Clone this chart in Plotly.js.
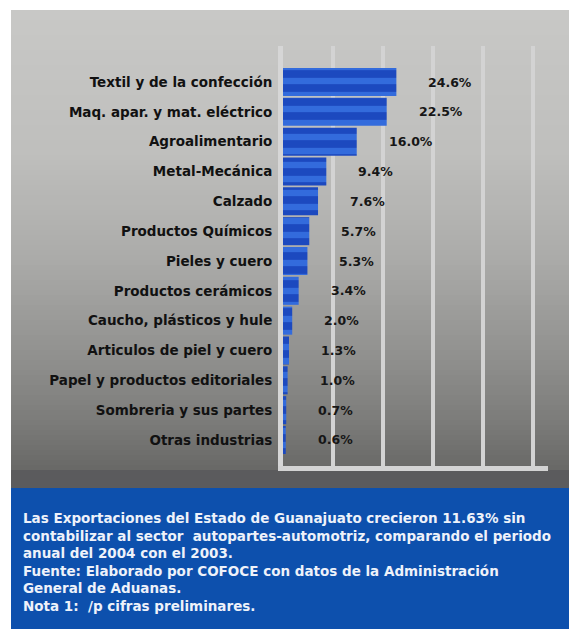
<!DOCTYPE html>
<html><head><meta charset="utf-8">
<script src="https://cdn.plot.ly/plotly-3.0.1.min.js"></script>
<style>html,body{margin:0;padding:0;background:#fff;}#chart{width:569px;height:629px;}</style>
</head><body><div id="chart"></div>
<script>
const categories = [
  "Textil y de la confección",
  "Maq. apar. y mat. eléctrico",
  "Agroalimentario",
  "Metal-Mecánica",
  "Calzado",
  "Productos Químicos",
  "Pieles y cuero",
  "Productos cerámicos",
  "Caucho, plásticos y hule",
  "Articulos de piel y cuero",
  "Papel y productos editoriales",
  "Sombreria y sus partes",
  "Otras industrias"
];
const shares = [24.6, 22.5, 16.0, 9.4, 7.6, 5.7, 5.3, 3.4, 2.0, 1.3, 1.0, 0.7, 0.6];
const noteLines = [
  "Las Exportaciones del Estado de Guanajuato crecieron 11.63% sin",
  "contabilizar al sector  autopartes-automotriz, comparando el periodo",
  "anual del 2004 con el 2003.",
  "Fuente: Elaborado por COFOCE con datos de la Administración",
  "General de Aduanas.",
  "Nota 1:  /p cifras preliminares."
];

const W = 569, H = 629, L = 283, R = 21, T = 46, B = 163;
const pw = W - L - R, ph = H - T - B;
const px = v => (v - L) / pw;
const py = v => (H - B - v) / ph;

// background gradient strips (decoration)
const stops = [[10, 200], [150, 191], [250, 173], [350, 146], [420, 124], [470, 104]];
function grayAt(y) {
  for (let i = 0; i < stops.length - 1; i++) {
    const [y0, c0] = stops[i], [y1, c1] = stops[i + 1];
    if (y <= y1) { const t = (y - y0) / (y1 - y0); return c0 + t * (c1 - c0); }
  }
  return stops[stops.length - 1][1];
}
const shapes = [];
for (let y = 10; y < 470; y += 5) {
  const g = Math.round(grayAt(y + 2.5));
  shapes.push({type: 'rect', xref: 'paper', yref: 'paper', layer: 'below',
    x0: px(11), x1: px(W), y0: py(y), y1: py(Math.min(y + 5.5, 470)),
    fillcolor: `rgb(${g},${g},${g - 2})`, line: {width: 0}});
}
shapes.push({type: 'rect', xref: 'paper', yref: 'paper', layer: 'below',
  x0: px(11), x1: px(W), y0: py(470), y1: py(488.5), fillcolor: '#5b5b5d', line: {width: 0}});
shapes.push({type: 'rect', xref: 'paper', yref: 'paper', layer: 'below',
  x0: px(11), x1: px(W), y0: py(488), y1: py(H), fillcolor: '#0d50ad', line: {width: 0}});

const annotations = shares.map((v, i) => ({
  x: v, y: categories[i], xref: 'x', yref: 'y', text: v.toFixed(1) + '%',
  showarrow: false, xanchor: 'left', xshift: 30,
  font: {family: 'DejaVu Sans', size: 12.5, weight: 'bold', color: '#161616'}
}));
annotations.push({
  xref: 'paper', yref: 'paper', x: px(21), y: py(508), xanchor: 'left', yanchor: 'top',
  align: 'left', showarrow: false, text: noteLines.join('<br>'),
  font: {family: 'DejaVu Sans', size: 13.5, weight: 'bold', color: '#eef2fa'}
});

const trace = {
  type: 'bar', orientation: 'h', x: shares, y: categories,
  marker: {color: '#1e4cc2', line: {width: 0},
    pattern: {shape: '-', fillmode: 'replace', bgcolor: '#1c49bf', fgcolor: '#336bdc', size: 14, solidity: 0.45}},
  hoverinfo: 'skip'
};

const layout = {
  width: W, height: H,
  margin: {l: L, r: R, t: T, b: B, pad: 0},
  paper_bgcolor: '#ffffff', plot_bgcolor: 'rgba(0,0,0,0)',
  showlegend: false, bargap: 0.06,
  xaxis: {range: [0, 57.5], tick0: 0, dtick: 57.5 * 50 / 265, showticklabels: false,
    ticks: '', showgrid: true, gridcolor: '#d3d3d3', gridwidth: 4, zeroline: false,
    showline: true, linecolor: '#d3d3d3', linewidth: 5, fixedrange: true},
  yaxis: {type: 'category', categoryorder: 'array', categoryarray: categories,
    range: [12.872, -1.207], ticks: '', showgrid: false, zeroline: false,
    showline: true, linecolor: '#d6d6d6', linewidth: 5, ticklabelstandoff: 3,
    tickfont: {family: 'DejaVu Sans', size: 13.5, weight: 'bold', color: '#111111'},
    fixedrange: true},
  shapes: shapes,
  annotations: annotations
};

Plotly.newPlot('chart', [trace], layout, {staticPlot: true, displayModeBar: false});
</script>
</body></html>
